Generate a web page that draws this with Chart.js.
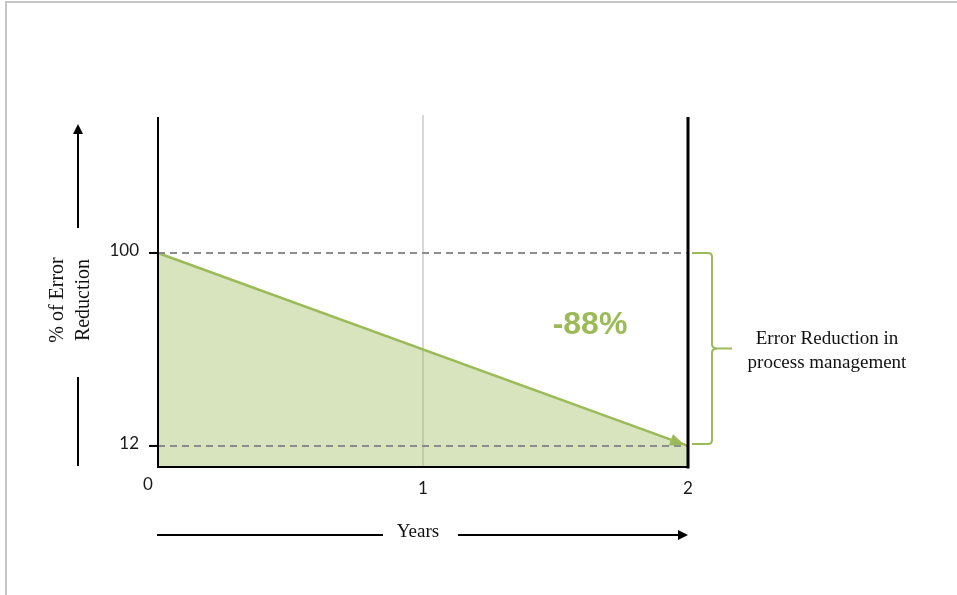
<!DOCTYPE html>
<html>
<head>
<meta charset="utf-8">
<script src="https://cdn.jsdelivr.net/npm/chart.js@4.4.0/dist/chart.umd.min.js"></script>
<style>
  html, body { margin: 0; padding: 0; background: #fff; }
  #wrap { width: 957px; height: 595px; position: relative; }
</style>
</head>
<body>
<div id="wrap"><canvas id="errChart"></canvas></div>
<script>
// Data
const years = [0, 2];
const errorPct = [100, 12];
const xTicks = [0, 1, 2];
const yTicks = [100, 12];
const changeLabel = '-88%';
const bracketLabel = ['Error Reduction in', 'process management'];
const yTitle = ['% of Error', 'Reduction'];
const xTitle = 'Years';

const GREEN = '#9bbb59';
const SERIF = '"Liberation Serif", "DejaVu Serif", serif';
const SANS = 'Lato, "Open Sans", sans-serif';

function arrowHead(ctx, x0, y0, x1, y1, len, half) {
  const ang = Math.atan2(y1 - y0, x1 - x0);
  ctx.beginPath();
  ctx.moveTo(x1, y1);
  ctx.lineTo(x1 - len * Math.cos(ang) + half * Math.sin(ang), y1 - len * Math.sin(ang) - half * Math.cos(ang));
  ctx.lineTo(x1 - len * Math.cos(ang) - half * Math.sin(ang), y1 - len * Math.sin(ang) + half * Math.cos(ang));
  ctx.closePath();
  ctx.fill();
}

// extra drawing: frame, axes, dashed guides, brace, titles
const decor = {
  id: 'decor',
  beforeDatasetsDraw(chart) {
    const { ctx, chartArea: a, scales: { x } } = chart;
    ctx.save();
    // outer frame
    ctx.strokeStyle = '#c6c6c6';
    ctx.lineWidth = 2;
    ctx.beginPath();
    ctx.moveTo(6, 595); ctx.lineTo(6, 2); ctx.lineTo(957, 2);
    ctx.stroke();
    // light grid line at year 1
    ctx.strokeStyle = '#d9d9d9';
    ctx.lineWidth = 2;
    ctx.beginPath();
    ctx.moveTo(x.getPixelForValue(1), a.top - 2);
    ctx.lineTo(x.getPixelForValue(1), a.bottom);
    ctx.stroke();
    ctx.restore();
  },
  afterDatasetsDraw(chart) {
    const { ctx, chartArea: a, scales: { x, y } } = chart;
    ctx.save();

    // dashed guides
    ctx.strokeStyle = '#8c8c8c';
    ctx.lineWidth = 2;
    ctx.setLineDash([7, 5]);
    yTicks.forEach(v => {
      ctx.beginPath();
      ctx.moveTo(a.left, y.getPixelForValue(v));
      ctx.lineTo(a.right, y.getPixelForValue(v));
      ctx.stroke();
    });
    ctx.setLineDash([]);

    // arrow head at the end of the trend line
    const n = years.length - 1;
    const x0 = x.getPixelForValue(years[n - 1]), y0 = y.getPixelForValue(errorPct[n - 1]);
    const x1 = x.getPixelForValue(years[n]) - 3, y1 = y.getPixelForValue(errorPct[n]) - 1;
    ctx.fillStyle = GREEN;
    arrowHead(ctx, x0, y0, x1, y1, 15, 6);

    // axes
    ctx.strokeStyle = '#000';
    ctx.lineWidth = 2;
    ctx.beginPath();
    ctx.moveTo(a.left, a.top); ctx.lineTo(a.left, a.bottom); ctx.lineTo(a.right, a.bottom);
    ctx.stroke();
    ctx.lineWidth = 3;
    ctx.beginPath();
    ctx.moveTo(a.right, a.top); ctx.lineTo(a.right, a.bottom + 1.5);
    ctx.stroke();

    // y ticks + labels
    ctx.lineWidth = 2;
    ctx.fillStyle = '#1a1a1a';
    ctx.font = '17px ' + SANS;
    ctx.textAlign = 'right';
    ctx.textBaseline = 'middle';
    yTicks.forEach(v => {
      const py = y.getPixelForValue(v);
      ctx.beginPath();
      ctx.moveTo(a.left - 9, py); ctx.lineTo(a.left, py);
      ctx.stroke();
      ctx.fillText(String(v), a.left - 19, py - 2);
    });

    // x labels (origin label sits left of the corner)
    ctx.textAlign = 'center';
    xTicks.forEach((v, i) => {
      const px = x.getPixelForValue(v) + (i === 0 ? -10 : 0);
      ctx.fillText(String(v), px, a.bottom + (i === 0 ? 18 : 22));
    });

    // -88% label
    ctx.fillStyle = GREEN;
    ctx.font = 'bold 32px "Liberation Sans", Arial, sans-serif';
    ctx.fillText(changeLabel, 590, 325);

    // curly brace between the two guides
    const top = y.getPixelForValue(yTicks[0]);
    const bot = y.getPixelForValue(yTicks[1]) - 2;
    const mid = (top + bot) / 2;
    const bx = a.right + 24;
    ctx.strokeStyle = GREEN;
    ctx.lineWidth = 2;
    ctx.beginPath();
    ctx.moveTo(a.right + 4, top);
    ctx.lineTo(bx - 4, top);
    ctx.quadraticCurveTo(bx, top, bx, top + 4);
    ctx.lineTo(bx, mid - 4);
    ctx.quadraticCurveTo(bx, mid, bx + 6, mid);
    ctx.lineTo(bx + 20, mid);
    ctx.moveTo(bx + 6, mid);
    ctx.quadraticCurveTo(bx, mid, bx, mid + 4);
    ctx.lineTo(bx, bot - 4);
    ctx.quadraticCurveTo(bx, bot, bx - 4, bot);
    ctx.lineTo(a.right + 4, bot);
    ctx.stroke();

    // brace text
    ctx.fillStyle = '#111';
    ctx.font = '19px ' + SERIF;
    ctx.fillText(bracketLabel[0], 827, 339);
    ctx.fillText(bracketLabel[1], 827, 363);

    // x title with arrow
    const ay = 535;
    ctx.strokeStyle = '#000';
    ctx.fillStyle = '#000';
    ctx.lineWidth = 2;
    ctx.beginPath();
    ctx.moveTo(157, ay); ctx.lineTo(383, ay);
    ctx.moveTo(458, ay); ctx.lineTo(680, ay);
    ctx.stroke();
    arrowHead(ctx, 458, ay, 688, ay, 10, 5);
    ctx.fillStyle = '#111';
    ctx.fillText(xTitle, 418, ay - 3);

    // y title with arrow
    const ax = 78;
    ctx.fillStyle = '#000';
    ctx.beginPath();
    ctx.moveTo(ax, 466); ctx.lineTo(ax, 377);
    ctx.moveTo(ax, 228); ctx.lineTo(ax, 133);
    ctx.stroke();
    arrowHead(ctx, ax, 228, ax, 124, 10, 5);
    ctx.save();
    ctx.translate(0, 300);
    ctx.rotate(-Math.PI / 2);
    ctx.fillStyle = '#111';
    ctx.font = '20px ' + SERIF;
    ctx.fillText(yTitle[0], 0, 58);
    ctx.fillText(yTitle[1], 0, 84);
    ctx.restore();

    ctx.restore();
  }
};

new Chart(document.getElementById('errChart'), {
  type: 'line',
  data: {
    datasets: [{
      data: years.map((yr, i) => ({ x: yr, y: errorPct[i] })),
      borderColor: GREEN,
      backgroundColor: 'rgba(155, 187, 89, 0.4)',
      borderWidth: 2.5,
      fill: 'start',
      pointRadius: 0,
      tension: 0,
      clip: false
    }]
  },
  options: {
    responsive: true,
    maintainAspectRatio: false,
    animation: false,
    layout: { padding: { left: 158, right: 269, top: 117, bottom: 128 } },
    scales: {
      x: { type: 'linear', min: 0, max: 2, display: false },
      y: { min: 2.4, max: 162, display: false }
    },
    plugins: {
      legend: { display: false },
      tooltip: { enabled: false }
    }
  },
  plugins: [decor]
});
</script>
</body>
</html>
